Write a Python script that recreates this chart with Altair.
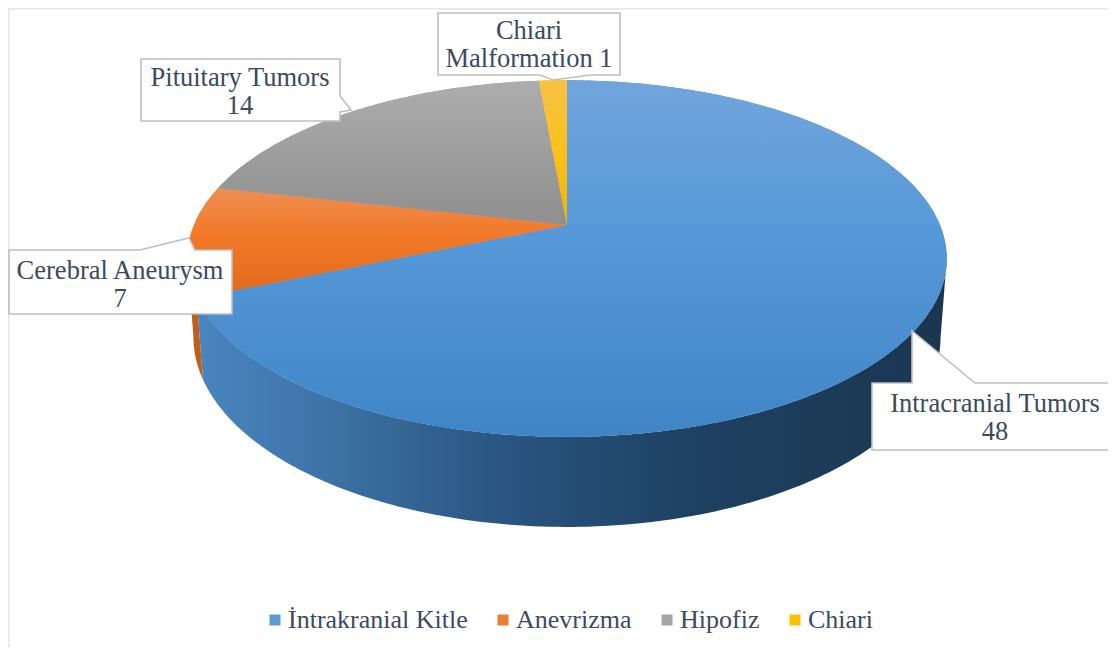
import numpy as np
import altair as alt

categories = ["İntrakranial Kitle", "Anevrizma", "Hipofiz", "Chiari"]
values = [48, 7, 14, 1]
flat_colors = ["#5b9bd5", "#ed7d31", "#a5a5a5", "#ffc000"]
callout_lines = [
    ["Intracranial Tumors", "48"],
    ["Cerebral Aneurysm", "7"],
    ["Pituitary Tumors", "14"],
    ["Chiari", "Malformation 1"],
]

FONT = "Liberation Serif"
TEXT = "#3b4a5f"
A, B, K, E, H = 373.0, 172.0, 0.188, 0.016, 78.0
OX, OY = 8, 8
AX, AY = 567, 225
APEX = [AX - OX, AY - OY]


def rim(deg, low=False):
    t = np.radians(deg)
    u, v = np.sin(t), -np.cos(t)
    w = 1 - K * v + (E if low else 0)
    return [float(A * u / w), float((B * v + (H if low else 0)) / w)]


def arc(a0, a1, low=False):
    n = max(2, int(abs(a1 - a0)) + 2)
    return [rim(d, low) for d in np.linspace(a0, a1, n)]


def feature(name, ring):
    ring = ring + [ring[0]]
    return {"type": "Feature", "properties": {"name": name},
            "geometry": {"type": "Polygon", "coordinates": [ring]}}


edges = np.concatenate([[0], np.cumsum(values)]) / sum(values) * 360
proj = alt.Projection(type="identity", scale=1, translate=APEX, reflectY=False).to_dict()


def grad(stops, horizontal=False):
    return {"gradient": "linear", "x1": 0, "y1": 0,
            "x2": 1 if horizontal else 0, "y2": 0 if horizontal else 1,
            "stops": [{"offset": o, "color": c} for o, c in stops]}


top_grads = [
    [(0, "#71a5dc"), (0.45, "#5598d8"), (1, "#3f85c6")],
    [(0, "#ee8f55"), (0.4, "#f37a29"), (1, "#e2691a")],
    [(0, "#adadad"), (1, "#8f8f8f")],
    [(0, "#f7c244"), (0.5, "#fdc01a"), (1, "#f0b400")],
]
wall_grad = [(0, "#4a85bf"), (0.15, "#3f76aa"), (0.4, "#2a5682"), (0.65, "#1e4263"), (1, "#1a3650")]

tops = [feature(c, [[0.0, 0.0]] + arc(edges[i], edges[i + 1]))
        for i, c in enumerate(categories)]

blue_wall = feature(categories[0], arc(100.8, edges[1]) + arc(edges[1], 100.8, low=True))
orange_wall = feature(categories[1], arc(edges[1], 259.5) + arc(259.5, edges[1], low=True))

layers = [
    alt.Chart(alt.Data(values=[orange_wall])).mark_geoshape(fill="#c05f15", strokeWidth=0).project(**proj),
    alt.Chart(alt.Data(values=[blue_wall])).mark_geoshape(fill=grad(wall_grad, True), strokeWidth=0).project(**proj),
    alt.Chart(alt.Data(values=tops)).mark_geoshape(strokeWidth=0).encode(
        color=alt.Color(
            "properties.name:N",
            scale=alt.Scale(domain=categories, range=flat_colors),
            legend=alt.Legend(
                orient="none", legendX=262 - OX, legendY=607 - OY, direction="horizontal", columns=4,
                title=None, symbolType="square", symbolSize=121, symbolStrokeWidth=0,
                labelFont=FONT, labelFontSize=26, labelColor=TEXT, labelLimit=400,
                columnPadding=22, labelOffset=0, padding=0,
            ),
        )
    ).project(**proj),
]
for f, g in zip(tops, top_grads):
    layers.append(alt.Chart(alt.Data(values=[f])).mark_geoshape(fill=grad(g), strokeWidth=0).project(**proj))

# callouts, in page pixels
boxes = [
    ([[872, 383], [912, 383], [912, 331], [975, 383], [1120, 383], [1120, 450], [872, 450]], (995, 403.5)),
    ([[9, 250], [140, 250], [189, 238], [195, 250], [232, 250], [232, 314], [9, 314]], (120, 270.5)),
    ([[141, 59], [340, 59], [340, 96], [351, 110], [340, 112], [340, 121], [141, 121]], (240, 78)),
    ([[438, 13], [620, 13], [620, 75], [590, 75], [553, 80], [540, 75], [438, 75]], (529, 31)),
]
callouts = []
for (ring, _), lines in zip(boxes, callout_lines):
    local = [[float(x - AX), float(y - AY)] for x, y in ring]
    callouts.append(
        alt.Chart(alt.Data(values=[feature("box", local)]))
        .mark_geoshape(fill="#ffffff", stroke="#bfbfbf", strokeWidth=1.6)
        .project(**proj)
    )

texts = []
for (_, (tx, ty)), lines in zip(boxes, callout_lines):
    texts.append(
        alt.Chart(alt.Data(values=[{"a": 1}])).mark_text(
            text=lines, font=FONT, fontSize=26.5, color=TEXT, align="center", baseline="middle", lineHeight=28
        ).encode(x=alt.value(tx - OX), y=alt.value(ty - OY))
    )

frame = [
    alt.Chart(alt.Data(values=[{"a": 1}])).mark_rule(color="#e2e7ec", strokeWidth=2).encode(
        x=alt.value(0.5), x2=alt.value(1100), y=alt.value(0.5)),
    alt.Chart(alt.Data(values=[{"a": 1}])).mark_rule(color="#e2e7ec", strokeWidth=2).encode(
        x=alt.value(0.5), y=alt.value(0), y2=alt.value(639)),
]

chart = alt.layer(*frame, *layers, *callouts, *texts).properties(
    width=1100, height=639, padding=0, autosize=alt.AutoSizeParams(type="none"), background="#ffffff"
).configure_view(stroke=None).resolve_scale(color="independent")

chart.save("out.html", embed_options={"renderer": "svg", "actions": False})
